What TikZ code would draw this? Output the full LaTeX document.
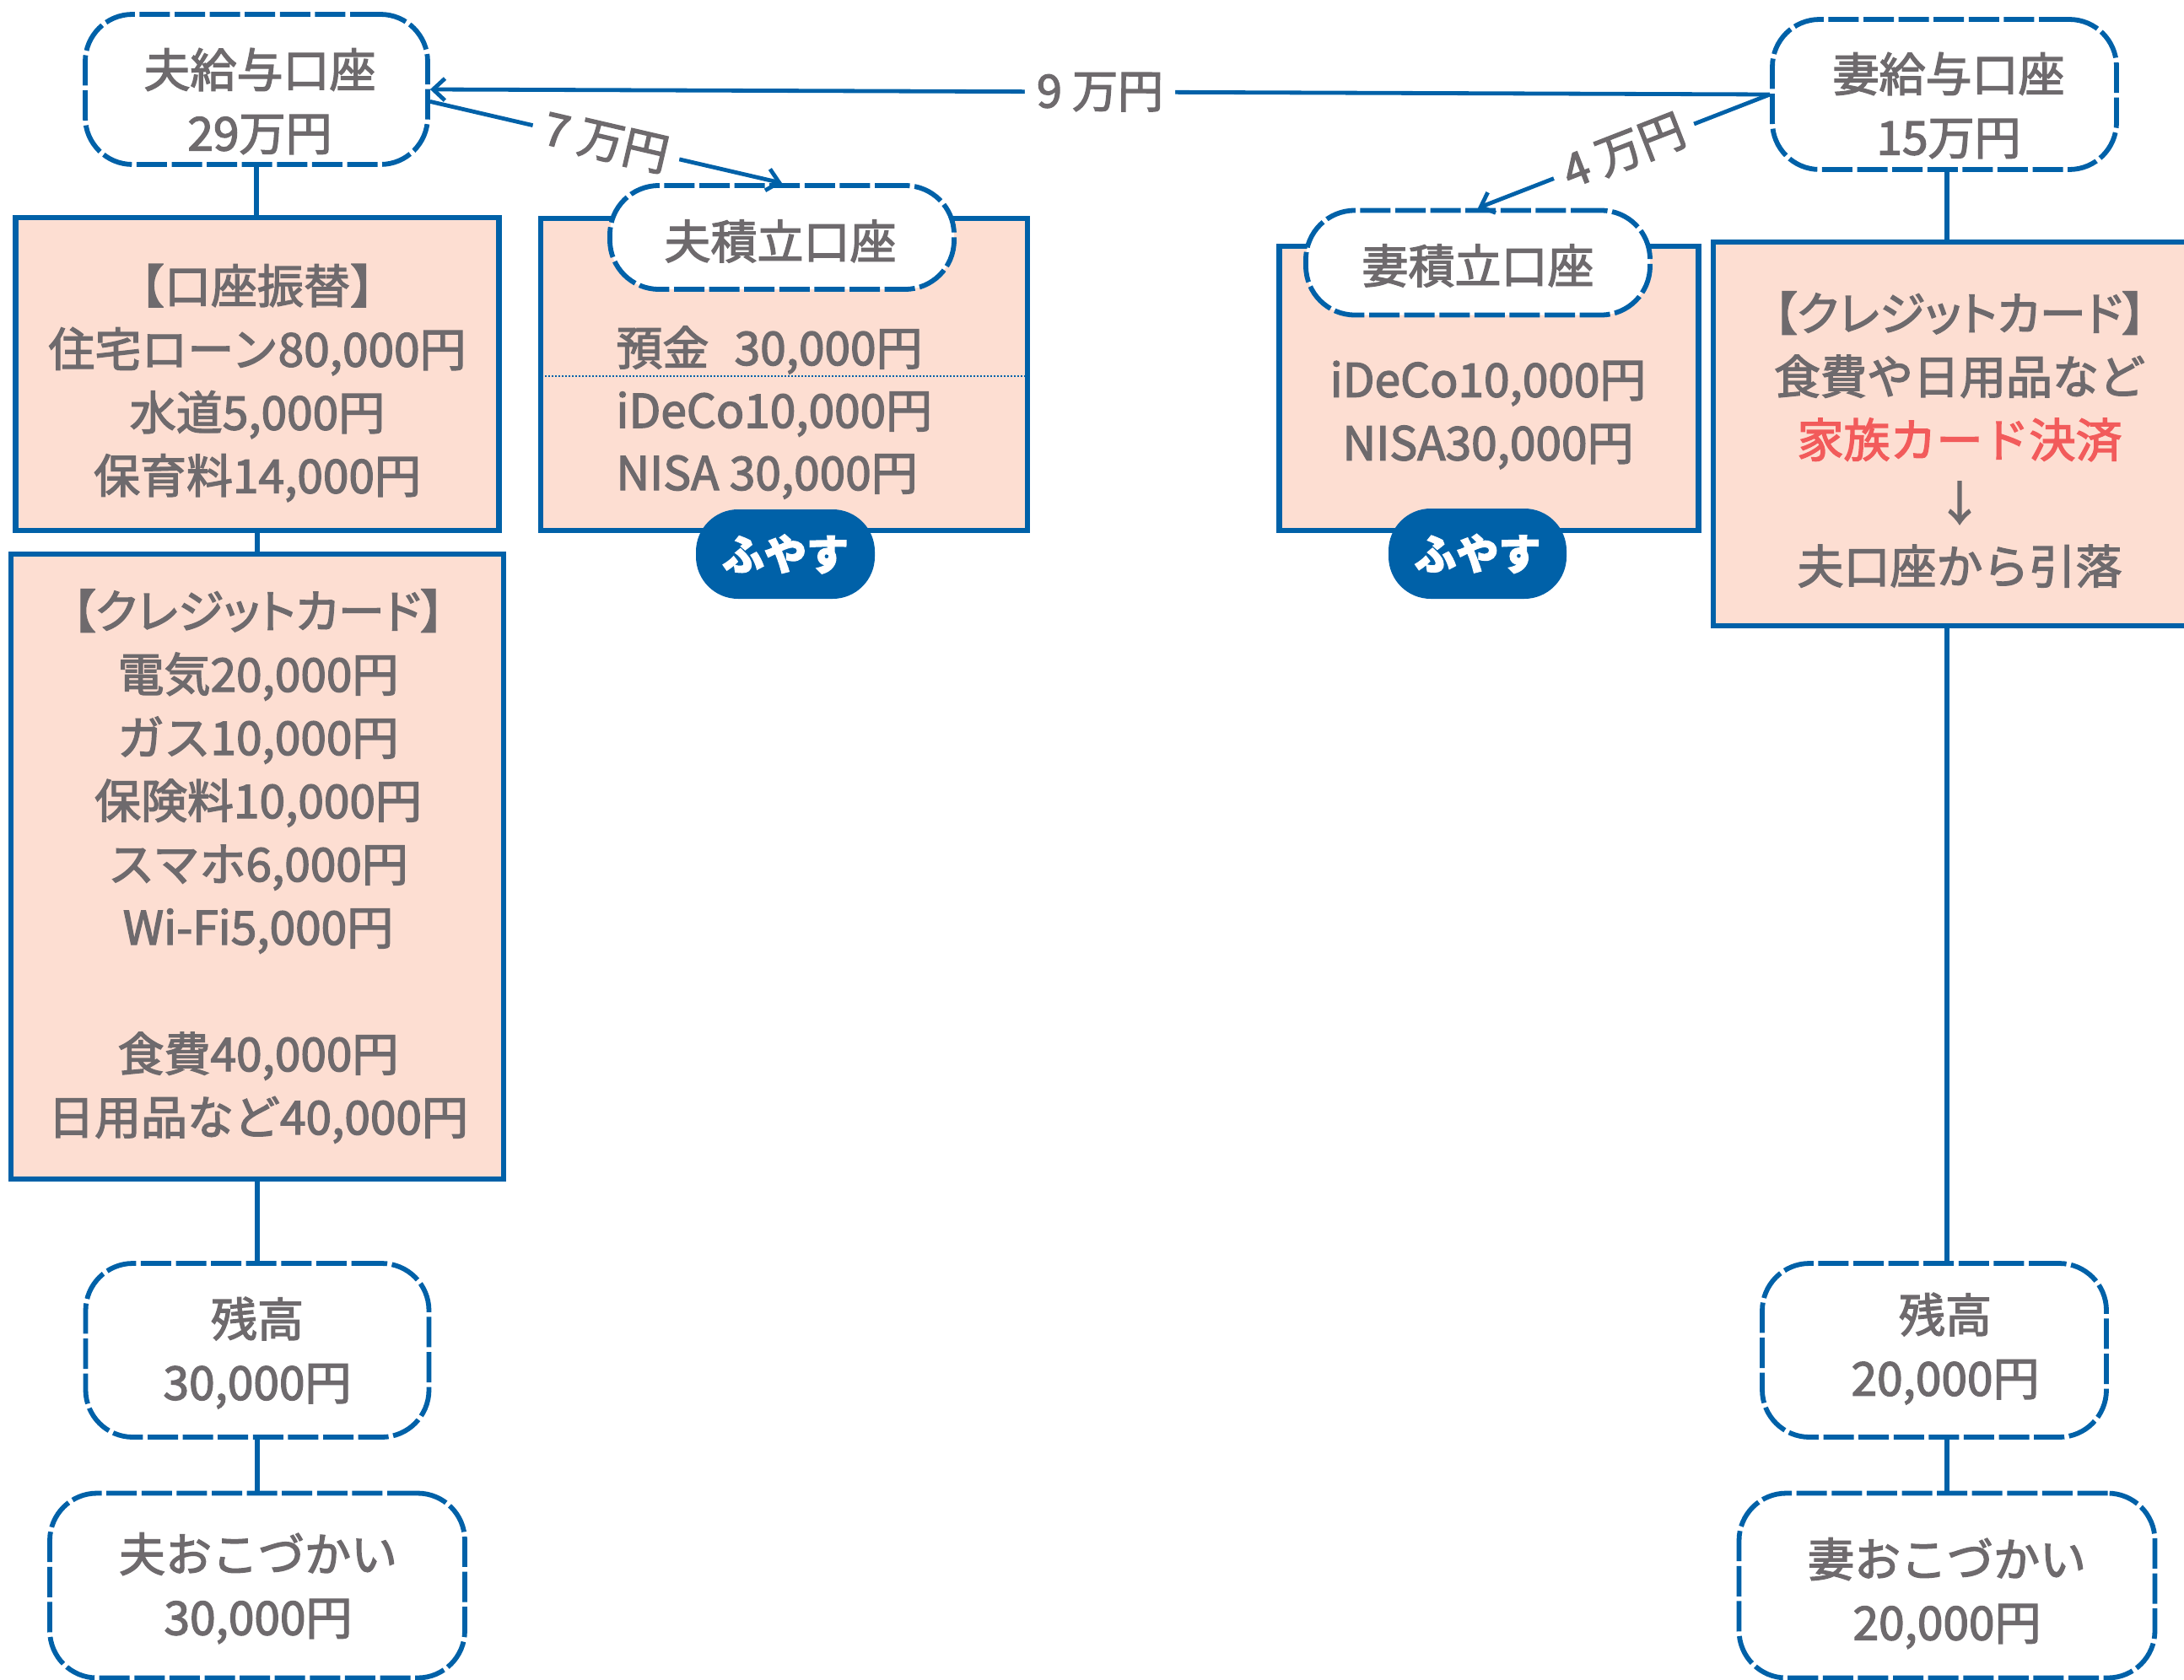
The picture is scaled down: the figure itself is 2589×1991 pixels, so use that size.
\documentclass[tikz,border=0pt]{standalone}
\usepackage{fontspec}
\setmainfont{Noto Sans CJK JP}[FakeBold=2.5]
\newfontfamily\paltfont{Noto Sans CJK JP}[RawFeature=+palt, FakeBold=2.5]
\usetikzlibrary{arrows.meta,calc}
\definecolor{bl}{HTML}{0061A8}
\definecolor{gr}{HTML}{6E6A6D}
\definecolor{pk}{HTML}{FDDED2}
\definecolor{rd}{HTML}{F25B5B}
\begin{document}
\begin{tikzpicture}[x=0.5pt,y=-0.5pt,
  dbox/.style={draw=bl, line width=2.9pt, dash pattern=on 18pt off 2.8pt, rounded corners=28pt, fill=white, inner sep=0pt},
  sbox/.style={draw=bl, line width=3.2pt, fill=pk, inner sep=0pt},
  pill/.style={dbox, rounded corners=29pt},
  fuyasu/.style={fill=bl, rounded corners=25pt, text=white, font=\fontsize{25}{30}\selectfont\bfseries, inner sep=0pt},
  txt/.style={text=gr, font=\fontsize{27.5}{37.5}\selectfont, align=center, inner sep=0pt},
  ltxt/.style={text=gr, font=\fontsize{27.5}{37.5}\selectfont, inner sep=0pt, anchor=west},
  conn/.style={draw=bl, line width=3pt},
  arr/.style={draw=bl, line width=2.4pt, -{Straight Barb[length=7pt,width=13pt,line width=2.4pt]}},
  lab/.style={fill=white, text=gr, font=\fontsize{27}{32}\selectfont, inner xsep=7pt, inner ysep=1pt, sloped, midway},
]
\useasboundingbox (0,0) rectangle (2589,1991);

% salary accounts
\node[dbox, minimum width=203pt, minimum height=89pt] (hk) at (304,106) {};
\node[txt] (hkt) at (308,120) {夫給与口座\\29万円};
\node[dbox, minimum width=204pt, minimum height=89pt] (wk) at (2305,112) {};
\node[txt] (wkt) at (2310,125) {妻給与口座\\15万円};

% left column boxes
\node[sbox, minimum width=286.5pt, minimum height=185.5pt] (hf) at (305,443.5) {};
\node[txt] (hft) at (305,454) {【口座振替】\\住宅ローン80,000円\\水道5,000円\\保育料14,000円};

\node[sbox, minimum width=292pt, minimum height=370.5pt] (hc) at (305,1027.5) {};
\node[txt] (hct) at (306,1027) {{\paltfont 【クレジットカード】}\\電気20,000円\\ガス10,000円\\保険料10,000円\\スマホ6,000円\\Wi-Fi5,000円\\[37.5pt]食費40,000円\\日用品など40,000円};

% husband savings
\node[sbox, minimum width=288.5pt, minimum height=185pt] (hsb) at (929.5,444) {};
\draw[bl, line width=0.9pt, dash pattern=on 1pt off 1pt] (hsb.west |- 0,446) coordinate (dl1) -- (hsb.east |- 0,446) coordinate (dl2);
\node[ltxt] (hs1) at (730,415) {預金\hspace{0.55em}30,000円};
\node[ltxt] (hs2) at (730,491) {iDeCo10,000円};
\node[ltxt] (hs3) at (730,565) {NISA 30,000円};
\node[pill, minimum width=204pt, minimum height=61.5pt] (hs) at (927,281.5) {};
\node[txt] (hst) at (925,286) {夫積立口座};
\node[fuyasu, minimum width=106pt, minimum height=53pt] (hfy) at (931,657) {ふやす};

% wife savings
\node[sbox, minimum width=248.5pt, minimum height=168.5pt] (wsb) at (1765,460.5) {};
\node[txt] (wst1) at (1764,492) {iDeCo10,000円\\NISA30,000円};
\node[pill, minimum width=204pt, minimum height=62pt] (ws) at (1752,311.5) {};
\node[txt] (wst) at (1752,315) {妻積立口座};
\node[fuyasu, minimum width=105.5pt, minimum height=53.5pt] (wfy) at (1751.5,656.5) {ふやす};

% right credit box
\node[sbox, minimum width=292pt, minimum height=227.5pt] (wc) at (2323,514.5) {};
\node[txt] (wct) at (2323,521) {{\paltfont 【クレジットカード】}\\食費や日用品など\\\textcolor{rd}{家族カード決済}\\↓\\夫口座から引落};

% balances
\node[dbox, minimum width=203.5pt, minimum height=103pt] (hz) at (305,1601) {};
\node[txt] (hzt) at (305,1604) {残高\\30,000円};
\node[dbox, minimum width=246pt, minimum height=109.5pt] (ho) at (305,1880) {};
\node[txt] (hot) at (306,1883) {夫おこづかい\\30,000円};
\node[dbox, minimum width=204pt, minimum height=103pt] (wz) at (2293,1601) {};
\node[txt] (wzt) at (2306,1599) {残高\\20,000円};
\node[dbox, minimum width=246.5pt, minimum height=109.5pt] (wo) at (2308,1880) {};
\node[txt] (wot) at (2308,1889) {妻おこづかい\\20,000円};

% connectors
\draw[conn] (hk.south) -- (hk.south |- hf.north);
\draw[conn] (hf.south) -- (hf.south |- hc.north);
\draw[conn] (hc.south) -- (hc.south |- hz.north);
\draw[conn] (hz.south) -- (hz.south |- ho.north);
\coordinate (rx) at (2308,0);
\draw[conn] (rx |- wk.south) -- (rx |- wc.north);
\draw[conn] (rx |- wc.south) -- (rx |- wz.north);
\draw[conn] (rx |- wz.south) -- (rx |- wo.north);

% transfers
\draw[arr] (wk.west) -- node[lab]{9 万円} (hk.east);
\draw[arr] (hk.-4) -- node[lab]{7 万円} (hs.north);
\draw[arr] (wk.west) -- node[lab]{4 万円} (ws.north);
\end{tikzpicture}
\end{document}
